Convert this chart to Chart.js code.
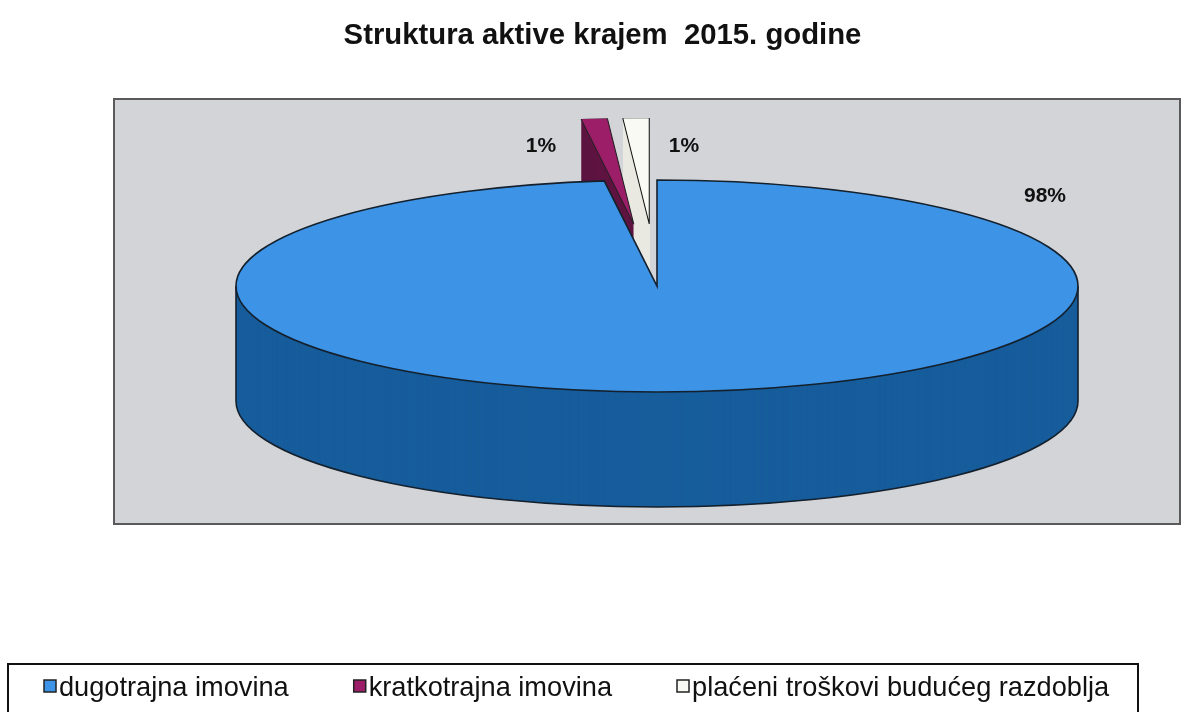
<!DOCTYPE html>
<html><head><meta charset="utf-8">
<script src="https://cdn.jsdelivr.net/npm/chart.js@4.4.1/dist/chart.umd.min.js"></script>
<style>html,body{margin:0;padding:0;background:#fff}#wrap{width:1183px;height:712px;position:relative}</style>
</head><body><div id="wrap"><canvas id="c" width="1183" height="712"></canvas></div>
<script>
// ---- data ----
const categories = ['dugotrajna imovina', 'kratkotrajna imovina', 'plaćeni troškovi budućeg razdoblja'];
const shares = [98, 1, 1];
const titleText = 'Struktura aktive krajem  2015. godine';

// ---- styles / layout ----
const topColors = ['#3d93e6', '#9c1d68', '#fafaf4'];
const sideColors = ['#175d9c', '#5e1440', '#e9e9e2'];
const explodeFrac = [0, 0.585, 0.585];
const FONT = '"Liberation Sans", Arial, sans-serif';
const G = {PX: 657, PY: 286, RX: 421, RY: 106, DEPTH: 115};
const labelOffsets = [[388, -90], [-116, -140], [27, -140]];
const PLOT = {l: 114, t: 99, r: 1180, b: 524};

function pieTransform(ctx, ref, dy) {
  ctx.translate(G.PX, G.PY + dy);
  ctx.scale(G.RX / ref.outerRadius, G.RY / ref.outerRadius);
  ctx.translate(-ref.x, -ref.y);
}
function drawArcAt(ctx, a, i, dy, colorOverride) {
  ctx.save();
  pieTransform(ctx, a, dy);
  const h = (a.startAngle + a.endAngle) / 2;
  const e = explodeFrac[i] * a.outerRadius;
  ctx.translate(Math.cos(h) * e, Math.sin(h) * e);
  if (colorOverride) {
    const o = a.options;
    a.options = Object.assign({}, o, {backgroundColor: colorOverride, borderWidth: 0});
    a.draw(ctx);
    a.options = o;
  } else {
    a.draw(ctx);
  }
  ctx.restore();
}

const pie3d = {
  id: 'pie3d',
  beforeDraw(chart) {
    const ctx = chart.ctx;
    ctx.save();
    ctx.fillStyle = '#fff';
    ctx.fillRect(0, 0, chart.width, chart.height);
    ctx.fillStyle = '#d3d4d8';
    ctx.fillRect(PLOT.l, PLOT.t, PLOT.r - PLOT.l, PLOT.b - PLOT.t);
    ctx.strokeStyle = '#5a5a5a';
    ctx.lineWidth = 2;
    ctx.strokeRect(PLOT.l, PLOT.t, PLOT.r - PLOT.l, PLOT.b - PLOT.t);
    ctx.restore();
  },
  beforeDatasetsDraw(chart) {
    const ctx = chart.ctx;
    const arcs = chart.getDatasetMeta(0).data;
    // side walls (extrusion), back to front
    for (let d = G.DEPTH; d >= 1; d--) {
      arcs.forEach((a, i) => drawArcAt(ctx, a, i, d, sideColors[i]));
    }
    ctx.save();
    ctx.strokeStyle = '#14202c';
    ctx.lineWidth = 1.6;
    ctx.beginPath();
    ctx.ellipse(G.PX, G.PY + G.DEPTH, G.RX, G.RY, 0, 0, Math.PI);
    ctx.stroke();
    ctx.beginPath();
    ctx.moveTo(G.PX - G.RX, G.PY); ctx.lineTo(G.PX - G.RX, G.PY + G.DEPTH);
    ctx.moveTo(G.PX + G.RX, G.PY); ctx.lineTo(G.PX + G.RX, G.PY + G.DEPTH);
    ctx.stroke();
    ctx.restore();
    // top faces
    arcs.forEach((a, i) => drawArcAt(ctx, a, i, 0, null));
    // outline of the main slice top
    const a = arcs[0];
    ctx.save();
    ctx.strokeStyle = '#14202c';
    ctx.lineWidth = 1.6;
    ctx.beginPath();
    ctx.moveTo(G.PX, G.PY);
    ctx.ellipse(G.PX, G.PY, G.RX, G.RY, 0, a.startAngle, a.endAngle);
    ctx.closePath();
    ctx.stroke();
    ctx.restore();
    return false;
  },
  afterDraw(chart) {
    const ctx = chart.ctx;
    const total = shares.reduce((s, v) => s + v, 0);
    ctx.save();
    // percentage labels
    ctx.fillStyle = '#111';
    ctx.font = 'bold 21px ' + FONT;
    ctx.textAlign = 'center';
    ctx.textBaseline = 'middle';
    shares.forEach((v, i) => {
      const txt = Math.round(v / total * 100) + '%';
      ctx.fillText(txt, G.PX + labelOffsets[i][0], G.PY + labelOffsets[i][1]);
    });
    // legend
    ctx.strokeStyle = '#111';
    ctx.lineWidth = 2;
    ctx.beginPath();
    ctx.moveTo(8, 712); ctx.lineTo(8, 664); ctx.lineTo(1138, 664); ctx.lineTo(1138, 712);
    ctx.stroke();
    ctx.font = '27.2px ' + FONT;
    ctx.textAlign = 'left';
    ctx.textBaseline = 'alphabetic';
    let x = 44;
    categories.forEach((c, i) => {
      ctx.fillStyle = topColors[i];
      ctx.fillRect(x, 680, 12, 12);
      ctx.lineWidth = 1.5;
      ctx.strokeStyle = '#222';
      ctx.strokeRect(x, 680, 12, 12);
      ctx.fillStyle = '#111';
      ctx.fillText(c, x + 15, 696);
      x += 15 + ctx.measureText(c).width + 65;
    });
    ctx.restore();
  }
};

new Chart(document.getElementById('c'), {
  type: 'pie',
  data: {
    labels: categories,
    datasets: [{
      data: shares,
      backgroundColor: topColors,
      borderColor: ['#14202c', '#222', '#111'],
      borderWidth: [0, 0.8, 0.8],
      hoverOffset: 0,
      clip: false
    }]
  },
  options: {
    responsive: false,
    devicePixelRatio: 1,
    animation: false,
    events: [],
    layout: {padding: {left: 22}},
    plugins: {
      legend: {display: false},
      tooltip: {enabled: false},
      title: {
        display: true,
        text: titleText,
        color: '#111',
        font: {family: FONT, size: 29.3, weight: 'bold'},
        padding: {top: 18, bottom: 10}
      }
    }
  },
  plugins: [pie3d]
});
</script>
</body></html>
